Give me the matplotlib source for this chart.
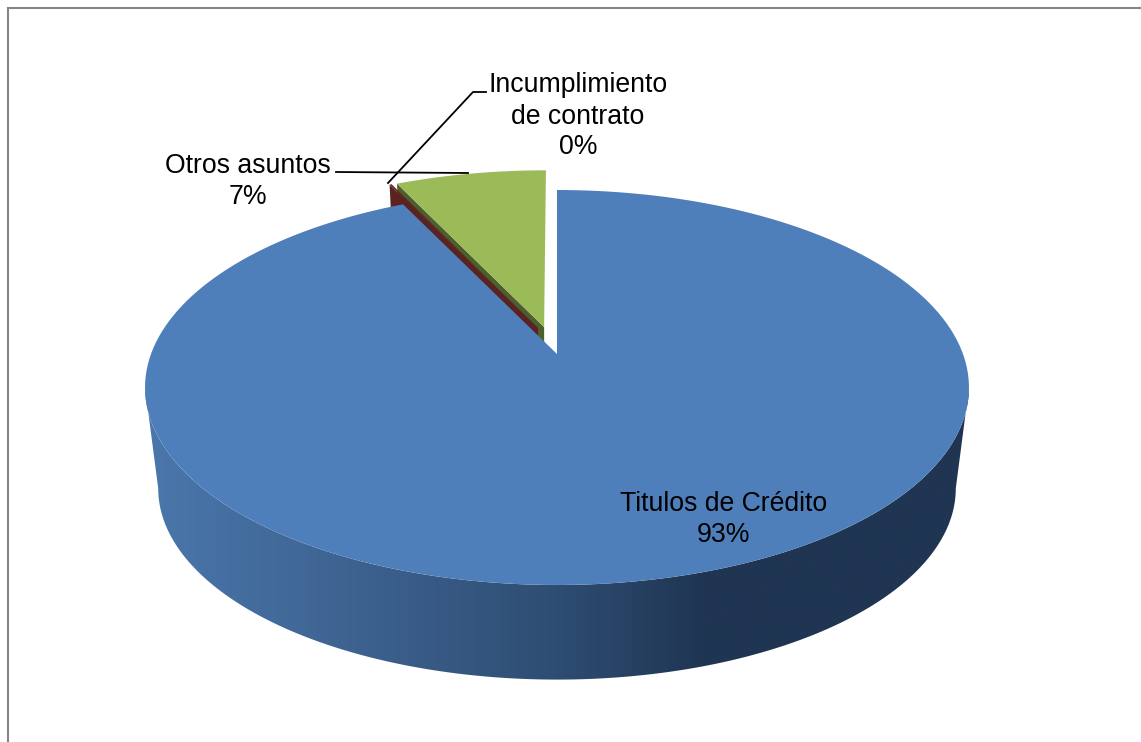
#!/usr/bin/env python3

import numpy as np
import matplotlib
matplotlib.use('Agg')
import matplotlib.pyplot as plt
from matplotlib.colors import LinearSegmentedColormap
from matplotlib.patches import Polygon

plt.rcParams['font.family'] = ['Liberation Sans', 'DejaVu Sans']

# slices, clockwise from 12 o'clock
categories = ['Titulos de Crédito', 'Incumplimiento\nde contrato', 'Otros asuntos']
shares = [92.8, 0.1, 7.1]
pct_labels = ['93%', '0%', '7%']
explode = [0.0, 0.147, 0.147]

top_colors = ['#4E7FBA', '#5F2422', '#9BBB59']
wall_colors = ['#2C4D75', '#5A2220', '#4C5F2D']

# perspective of the pie disc, in pixels
cx, cy = 557.0, 354.0
rx, ry = 406.0, 191.8
persp = 0.1696
depth_y = 102.0
depth_scale = 0.968
# the red sliver is pulled out a bit more towards the green one
red_dir = 341.0


def project(px, py, lower=False):
    w = 1 + persp * py
    x = rx * px / w
    y = ry * py / w
    if lower:
        return cx + depth_scale * x, cy + depth_y - depth_scale * y
    return cx + x, cy - y


def top_face(start, end, mid, shift):
    # apex then the rim, angles in degrees
    m = np.radians(mid)
    t = np.radians(np.linspace(start, end, 200))
    ox, oy = shift * np.sin(m), shift * np.cos(m)
    xs, ys = project(np.r_[ox, ox + np.sin(t)], np.r_[oy, oy + np.cos(t)])
    return np.column_stack([xs, ys])


def cut_face(angle, mid, shift):
    # flat side of an exploded slice, at the edge given by angle
    m = np.radians(mid)
    a = np.radians(angle)
    ox, oy = shift * np.sin(m), shift * np.cos(m)
    px = np.array([ox, ox + np.sin(a)])
    py = np.array([oy, oy + np.cos(a)])
    x1, y1 = project(px, py)
    x2, y2 = project(px, py, lower=True)
    return np.column_stack([np.r_[x1, x2[::-1]], np.r_[y1, y2[::-1]]])


fig = plt.figure(figsize=(11.41, 7.42), dpi=100)
ax = fig.add_axes([0, 0, 1, 1])
ax.set_xlim(0, 1141)
ax.set_ylim(742, 0)
ax.axis('off')

# chart frame, runs off the picture at right and bottom
ax.plot([8, 8, 1141], [742, 8, 8], color='#868686', lw=1.5, solid_joinstyle='miter')

ends = np.cumsum(shares) * 3.6
starts = np.r_[0, ends[:-1]]
dirs = [0.0, red_dir, (starts[2] + ends[2]) / 2]

# the small slices first, blue goes over them
z_wall = {1: 2.5, 2: 2.0}
z_top = {1: 2.6, 2: 3.0}
for i in [1, 2]:
    ax.add_patch(Polygon(cut_face(starts[i], dirs[i], explode[i]), closed=True,
                         fc=wall_colors[i], ec='none', zorder=z_wall[i]))
    ax.add_patch(Polygon(top_face(starts[i], ends[i], dirs[i], explode[i]), closed=True,
                         fc=top_colors[i], ec='none', zorder=z_top[i]))

# outer wall of the big slice with horizontal shading
edge = np.degrees(np.arccos(-persp))
t = np.radians(np.linspace(edge, 360 - edge, 400))
x_up, y_up = project(np.sin(t), np.cos(t))
x_lo, y_lo = project(np.sin(t), np.cos(t), lower=True)
wall = Polygon(np.column_stack([np.r_[x_up, x_lo[::-1]], np.r_[y_up, y_lo[::-1]]]),
               closed=True, fc='none', ec='none', zorder=4)
ax.add_patch(wall)
shade = LinearSegmentedColormap.from_list('wall', [
    (0.0, '#4A77AC'), (0.22, '#3F6594'), (0.5, '#2E4D72'),
    (0.68, '#1F3552'), (1.0, '#1F3552')])
im = ax.imshow(np.linspace(0, 1, 512)[None, :], cmap=shade, aspect='auto',
               extent=[145, 970, 742, 300], zorder=4)
im.set_clip_path(wall)
ax.set_xlim(0, 1141)
ax.set_ylim(742, 0)

ax.add_patch(Polygon(top_face(starts[0], ends[0], 0.0, explode[0]), closed=True,
                     fc=top_colors[0], ec='none', zorder=5))

# leader lines
ax.plot([336, 468], [172, 173], color='black', lw=1.3, zorder=6)
ax.plot([486, 473, 388], [92, 92, 183], color='black', lw=1.3, zorder=6)

font = 19.15
ax.text(724, 519.5, categories[0] + '\n' + pct_labels[0], ha='center', va='center',
        fontsize=font, linespacing=1.25, color='black', zorder=7)
ax.text(578, 116.5, categories[1] + '\n' + pct_labels[1], ha='center', va='center',
        fontsize=font, linespacing=1.25, color='black', zorder=7)
ax.text(248, 181.5, categories[2] + '\n' + pct_labels[2], ha='center', va='center',
        fontsize=font, linespacing=1.25, color='black', zorder=7)

fig.savefig('out.png', dpi=100)
